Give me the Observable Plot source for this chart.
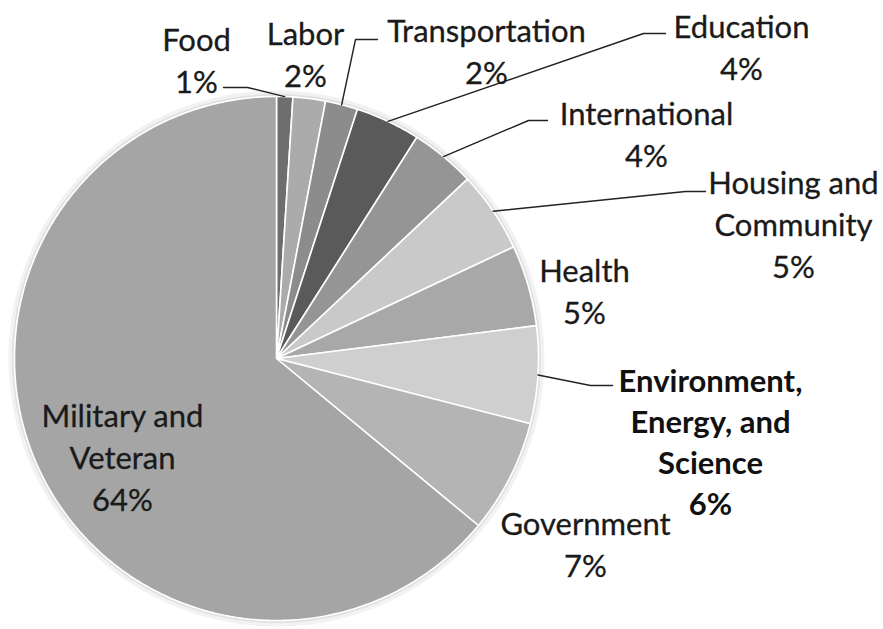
<!DOCTYPE html>
<html>
<head>
<meta charset="utf-8">
<script src="https://cdn.jsdelivr.net/npm/d3@7"></script>
<script src="https://cdn.jsdelivr.net/npm/@observablehq/plot@0.6"></script>
<style>
  html, body { margin: 0; padding: 0; background: #fff; overflow: hidden; }
</style>
</head>
<body>
<div id="chart"></div>
<script>
// ---- data ----
const categories = ["Food", "Labor", "Transportation", "Education", "International",
  "Housing and Community", "Health", "Environment, Energy, and Science", "Government", "Military and Veteran"];
const shares = [1, 2, 2, 4, 4, 5, 5, 6, 7, 64];
const labelLines = ["Food\n1%", "Labor\n2%", "Transportation\n2%", "Education\n4%", "International\n4%",
  "Housing and\nCommunity\n5%", "Health\n5%", "Environment,\nEnergy, and\nScience\n6%", "Government\n7%",
  "Military and\nVeteran\n64%"];
const sliceColors = ["#6e6e6e", "#ababab", "#8c8c8c", "#5a5a5a", "#959595",
  "#c9c9c9", "#a8a8a8", "#cfcfcf", "#b4b4b4", "#a5a5a5"];

// ---- layout (pixels) ----
const W = 883, H = 629;
const cx = 276, cy = 358, R = 262;
const labelPos = [[196, 58], [305, 52], [486, 49], [741, 45], [646, 132],
  [793, 222], [584, 289], [710, 440], [585, 542], [122, 455]];
// leader lines: [elbowX, elbowY, endX, endY] or null
const leaders = [[247, 87, 223, 87], null, [355, 39, 377, 39], [643, 33, 665, 33], [528, 120, 547, 120],
  [685, 191, 705, 191], null, [590, 385, 612, 385], null, null];
const boldLabel = categories.map(c => c.startsWith("Environment"));

// ---- build pie geometry from values ----
const arcs = d3.pie().sort(null).value(d => d).startAngle(0).endAngle(2 * Math.PI)(shares);
const pt = a => [cx + R * Math.sin(a), cy - R * Math.cos(a)];
const slicePts = [];
arcs.forEach((a, i) => {
  slicePts.push({name: categories[i], color: sliceColors[i], x: cx, y: cy});
  const n = Math.max(2, Math.ceil((a.endAngle - a.startAngle) / (Math.PI / 360)));
  for (let k = 0; k <= n; k++) {
    const ang = a.startAngle + (a.endAngle - a.startAngle) * k / n;
    const [x, y] = pt(ang);
    slicePts.push({name: categories[i], color: sliceColors[i], x, y});
  }
  slicePts.push({name: categories[i], color: sliceColors[i], x: cx, y: cy});
});

const leaderPts = [];
arcs.forEach((a, i) => {
  if (!leaders[i]) return;
  const [sx, sy] = pt((a.startAngle + a.endAngle) / 2);
  const [ex, ey, tx, ty] = leaders[i];
  leaderPts.push({name: categories[i], x: sx, y: sy});
  leaderPts.push({name: categories[i], x: ex, y: ey});
  leaderPts.push({name: categories[i], x: tx, y: ty});
});

const labels = categories.map((c, i) => ({name: c, text: labelLines[i], x: labelPos[i][0], y: labelPos[i][1], bold: boldLabel[i]}));

const font = "Lato, 'Open Sans', sans-serif";
const chart = Plot.plot({
  width: W, height: H,
  margin: 0,
  x: {domain: [0, W], range: [0, W], axis: null},
  y: {domain: [0, H], range: [0, H], axis: null},
  color: {type: "identity"},
  marks: [
    Plot.dot([{x: cx, y: cy}], {x: "x", y: "y", r: R + 3, fill: "none", stroke: "#000", strokeOpacity: 0.05, strokeWidth: 6}),
    Plot.dot([{x: cx, y: cy}], {x: "x", y: "y", r: R + 1.5, fill: "none", stroke: "#000", strokeOpacity: 0.07, strokeWidth: 2}),
    Plot.line(slicePts, {x: "x", y: "y", z: "name", fill: "color", stroke: "white", strokeWidth: 1.6, strokeLinejoin: "miter"}),
    Plot.line(leaderPts, {x: "x", y: "y", z: "name", stroke: "#222", strokeWidth: 1.4}),
    Plot.text(labels.filter(d => !d.bold), {x: "x", y: "y", text: "text", fontSize: 31, fontFamily: font, lineHeight: 1.35, fill: "#1a1a1a", stroke: "#1a1a1a", strokeWidth: 0.3}),
    Plot.text(labels.filter(d => d.bold), {x: "x", y: "y", text: "text", fontSize: 31, fontFamily: font, fontWeight: "bold", lineHeight: 1.32, fill: "#111"})
  ]
});
document.getElementById("chart").appendChild(chart);
</script>
</body>
</html>
